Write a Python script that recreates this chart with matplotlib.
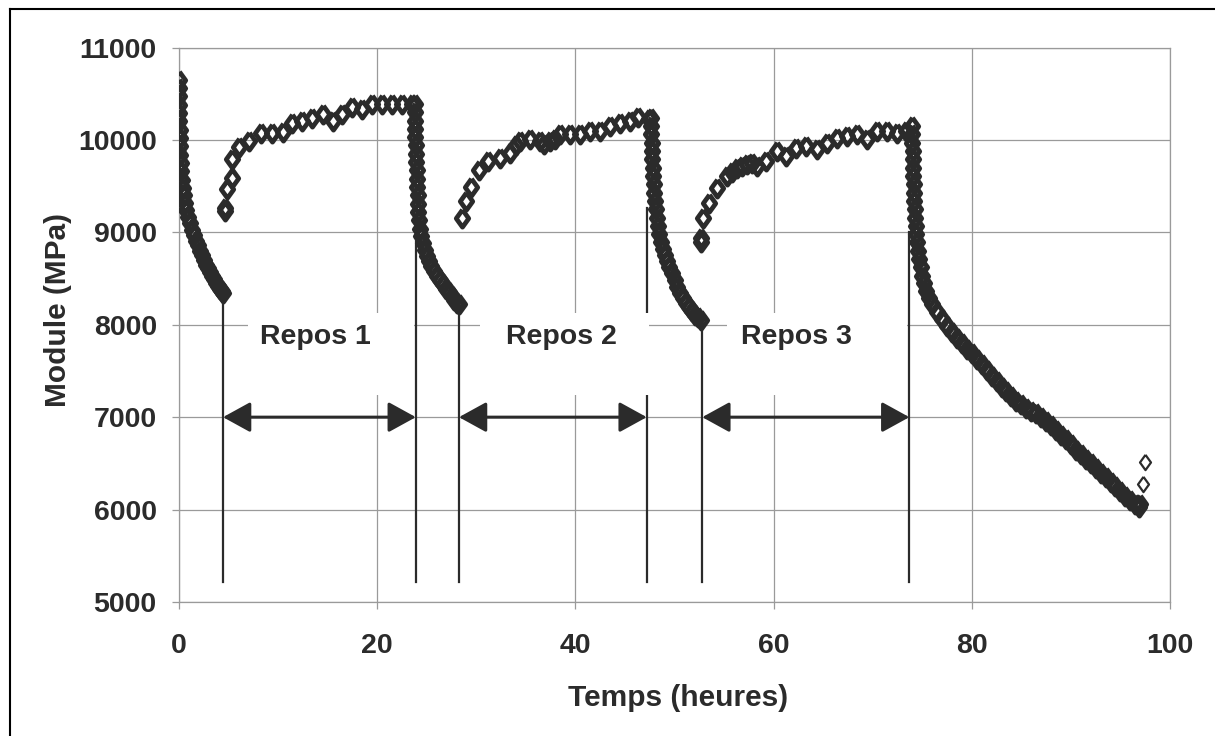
import numpy as np
import matplotlib
matplotlib.use("Agg")
import matplotlib.pyplot as plt
from matplotlib.patches import Rectangle
from matplotlib.lines import Line2D

# ---- data (time in h, modulus in MPa) ----
# loading 1 (initial drop)
t_load1 = [0.0, 0.0, 0.0, 0.05, 0.05, 0.05, 0.1, 0.1, 0.1, 0.15, 0.2, 0.25, 0.3, 0.4, 0.5,
           0.6, 0.75, 0.9, 1.1, 1.3, 1.5, 1.7, 1.9, 2.1, 2.3, 2.5, 2.7, 2.9, 3.1, 3.3, 3.5,
           3.7, 3.9, 4.1, 4.3, 4.4]
m_load1 = [10650, 10560, 10470, 10380, 10290, 10200, 10110, 10020, 9930, 9840, 9750, 9660,
           9570, 9480, 9400, 9320, 9240, 9170, 9100, 9030, 8970, 8910, 8860, 8800, 8750, 8700,
           8650, 8610, 8570, 8530, 8490, 8450, 8420, 8390, 8360, 8340]
# rest 1 (recovery)
t_rest1 = [4.6, 4.6, 4.8, 5.3, 5.3, 6.1, 7.1, 8.3, 9.4, 10.5, 11.4, 12.4, 13.4, 14.5, 15.5,
           16.4, 17.5, 18.5, 19.5, 20.5, 21.5, 22.5, 23.5]
m_rest1 = [9260, 9230, 9470, 9590, 9790, 9920, 9990, 10070, 10070, 10090, 10180, 10210, 10235,
           10280, 10200, 10280, 10360, 10330, 10385, 10390, 10390, 10390, 10390]
# loading 2
t_load2 = [23.8, 23.8, 23.8, 23.85, 23.85, 23.9, 23.9, 23.95, 24.0, 24.0, 24.05, 24.1, 24.1,
           24.15, 24.2, 24.3, 24.4, 24.6, 24.8, 25.0, 25.2, 25.4, 25.7, 26.0, 26.3, 26.6,
           26.9, 27.2, 27.5, 27.8, 28.1, 28.3]
m_load2 = [10390, 10300, 10210, 10120, 10030, 9940, 9850, 9760, 9670, 9580, 9490, 9400, 9310,
           9220, 9130, 9040, 8960, 8880, 8810, 8740, 8690, 8640, 8580, 8530, 8480, 8440, 8390,
           8350, 8310, 8270, 8240, 8220]
# rest 2
t_rest2 = [28.6, 29.0, 29.5, 30.3, 31.2, 32.4, 33.4, 34.0, 34.4, 35.4, 36.4, 36.8, 37.4, 37.9,
           38.4, 39.5, 40.5, 41.5, 42.5, 43.5, 44.5, 45.5, 46.3, 47.4]
m_rest2 = [9155, 9340, 9490, 9670, 9770, 9800, 9855, 9950, 9985, 10005, 9985, 9960, 9985, 10010,
           10060, 10060, 10060, 10095, 10095, 10150, 10180, 10200, 10245, 10225]
# loading 3
t_load3 = [47.6, 47.6, 47.65, 47.7, 47.7, 47.75, 47.8, 47.85, 47.9, 47.95, 48.0, 48.1, 48.2,
           48.3, 48.45, 48.6, 48.8, 49.0, 49.2, 49.4, 49.7, 50.0, 50.3, 50.6, 50.9, 51.2, 51.5,
           51.8, 52.1, 52.4, 52.7]
m_load3 = [10240, 10150, 10060, 9970, 9880, 9790, 9700, 9610, 9520, 9430, 9340, 9250, 9160,
           9070, 8980, 8900, 8820, 8750, 8690, 8630, 8560, 8480, 8410, 8340, 8290, 8240, 8190,
           8150, 8110, 8080, 8050]
# rest 3
t_rest3 = [52.7, 52.7, 52.9, 53.5, 54.3, 55.3, 55.8, 56.3, 56.8, 57.3, 57.8, 58.3, 59.2, 60.3,
           61.3, 62.3, 63.3, 64.4, 65.4, 66.4, 67.4, 68.4, 69.4, 70.4, 71.4, 72.5, 73.4]
m_rest3 = [8940, 8900, 9155, 9317, 9478, 9608, 9650, 9694, 9720, 9737, 9745, 9716, 9770, 9878,
           9824, 9910, 9932, 9900, 9964, 10018, 10040, 10061, 10007, 10094, 10094, 10072, 10094]
# loading 4 (to failure)
t_load4 = [74.0, 74.0, 74.0, 74.05, 74.05, 74.1, 74.1, 74.15, 74.15, 74.2, 74.25, 74.3, 74.35,
           74.4, 74.5, 74.6, 74.7, 74.85, 75.0, 75.2, 75.4, 75.7, 76.0, 76.5, 77.0, 77.5, 78.0,
           78.5, 79.0, 79.5, 80.0, 80.5, 81.0, 81.5, 82.0, 82.5, 83.0, 83.5, 84.0, 84.5, 85.0,
           85.5, 86.0, 86.5, 87.0, 87.5, 88.0, 88.5, 89.0, 89.5, 90.0, 90.5, 91.0, 91.5, 92.0,
           92.5, 93.0, 93.5, 94.0, 94.5, 95.0, 95.5, 96.0, 96.5, 96.9, 97.0]
m_load4 = [10150, 10060, 9970, 9880, 9790, 9700, 9610, 9520, 9430, 9340, 9250, 9160, 9070, 8980,
           8890, 8800, 8710, 8620, 8530, 8450, 8370, 8290, 8220, 8140, 8060, 7990, 7920, 7860,
           7800, 7740, 7690, 7630, 7570, 7510, 7450, 7390, 7330, 7280, 7230, 7180, 7140, 7100,
           7070, 7040, 7000, 6960, 6910, 6860, 6810, 6760, 6710, 6650, 6600, 6550, 6500, 6450,
           6400, 6350, 6300, 6250, 6200, 6150, 6100, 6060, 6030, 6060]
t_last = [97.3, 97.5]
m_last = [6280, 6520]

# rest periods (start, end) and labels
rest_start = [4.44, 28.25, 52.8]
rest_end = [23.9, 47.2, 73.7]
rest_labels = ["Repos 1", "Repos 2", "Repos 3"]
label_x = [13.8, 38.6, 62.3]
top_start = [8380, 8230, 8050]
top_end = [9000, 9260, 9000]

INK = "#2b2b2b"
GRID = "#9a9a9a"
plt.rcParams["font.family"] = ["Liberation Sans", "DejaVu Sans"]
plt.rcParams["font.weight"] = "bold"

fig = plt.figure(figsize=(12.15, 7.36), dpi=100)
ax = fig.add_axes([179 / 1215, 1 - 602 / 736, 991 / 1215, 554.5 / 736])

t_all = np.concatenate([t_load1, t_rest1, t_load2, t_rest2, t_load3, t_rest3, t_load4])
m_all = np.concatenate([m_load1, m_rest1, m_load2, m_rest2, m_load3, m_rest3, m_load4])
diamond = [(0, 1), (0.72, 0), (0, -1), (-0.72, 0), (0, 1)]
ax.plot(t_all, m_all, ls="none", marker=diamond, ms=12.5, mfc="none", mec=INK, mew=3.4,
        zorder=5)
ax.plot(t_last, m_last, ls="none", marker=diamond, ms=11, mfc="none", mec=INK, mew=1.6, zorder=5)

# vertical markers, boxes, arrows
y_arrow, y_bot = 7000, 5220
box_lo, box_hi = 7240, 8127
box_x = [(6.96, 23.7), (30.4, 47.4), (55.3, 73.5)]
for s, e, lab, lx, ts, te, (bx0, bx1) in zip(rest_start, rest_end, rest_labels, label_x,
                                             top_start, top_end, box_x):
    ax.plot([s, s], [y_bot, ts], color=INK, lw=1.6, zorder=2)
    ax.plot([e, e], [y_bot, te], color=INK, lw=1.6, zorder=2)
    ax.add_patch(Rectangle((bx0, box_lo), bx1 - bx0, box_hi - box_lo, facecolor="white",
                           edgecolor="none", zorder=3))
    ax.text(lx, 7867, lab, ha="center", va="center", fontsize=20.5, fontweight="bold",
            color=INK, zorder=4)
    ax.annotate("", xy=(e, y_arrow), xytext=(s, y_arrow),
                arrowprops=dict(arrowstyle="<|-|>,head_length=1.0,head_width=0.55",
                                lw=2.2, color=INK, mutation_scale=17,
                                shrinkA=0, shrinkB=0), zorder=4)

ax.set_xlim(0, 100)
ax.set_ylim(5000, 11000)
ax.set_xticks(np.arange(0, 101, 20))
ax.set_yticks(np.arange(5000, 11001, 1000))
ax.grid(True, color=GRID, lw=0.9)
ax.set_axisbelow(True)
for sp in ax.spines.values():
    sp.set_color(GRID)
    sp.set_linewidth(0.9)
ax.tick_params(axis="both", direction="out", length=5, width=0.9, color=GRID,
               labelsize=20.5, labelcolor=INK)
ax.tick_params(axis="x", pad=17)
ax.tick_params(axis="y", pad=11)
for lbl in ax.get_xticklabels() + ax.get_yticklabels():
    lbl.set_fontweight("bold")

ax.set_xlabel("Temps (heures)", fontsize=21.5, fontweight="bold", color=INK)
ax.set_ylabel("Module (MPa)", fontsize=21.5, fontweight="bold", color=INK)
ax.xaxis.set_label_coords(0.504, -0.148)
ax.yaxis.set_label_coords(-0.108, 0.527)

# scan frame (top and left edges)
fig.add_artist(Line2D([10 / 1215, 10 / 1215], [0, 1 - 9 / 736], color="black", lw=1.5))
fig.add_artist(Line2D([10 / 1215, 1], [1 - 9 / 736, 1 - 9 / 736], color="black", lw=1.5))

fig.savefig("out.png", dpi=100)
